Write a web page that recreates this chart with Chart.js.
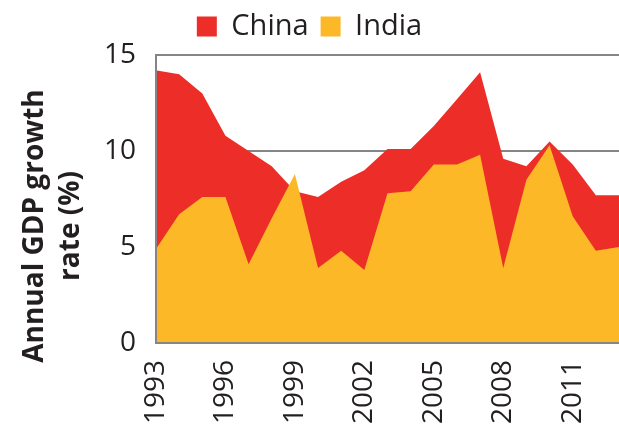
<!DOCTYPE html>
<html>
<head>
<meta charset="utf-8">
<script src="https://cdn.jsdelivr.net/npm/chart.js@4.4.1/dist/chart.umd.min.js"></script>
<style>
    body { margin: 0; background: #fff; }
    #wrap { position: relative; width: 619px; height: 430px; overflow: hidden; }
    #yTitle {
        position: absolute;
        left: -100px;
        top: 190px;
        width: 300px;
        height: 72px;
        line-height: 36px;
        text-align: center;
        font-family: 'Open Sans', sans-serif;
        font-weight: bold;
        font-size: 28px;
        color: #231f20;
        transform: rotate(-90deg);
        white-space: nowrap;
    }
</style>
</head>
<body>
<div id="wrap">
    <canvas id="gdpChart" width="619" height="430"></canvas>
    <div id="yTitle">Annual GDP growth<br>rate (%)</div>
</div>
<script>
// Datos
const years = [1993, 1994, 1995, 1996, 1997, 1998, 1999, 2000, 2001, 2002, 2003,
               2004, 2005, 2006, 2007, 2008, 2009, 2010, 2011, 2012, 2013];
const chinaGrowth = [14.2, 14.0, 13.0, 10.8, 10.0, 9.2, 7.9, 7.6, 8.4, 9.0, 10.1,
                     10.1, 11.3, 12.7, 14.1, 9.6, 9.2, 10.5, 9.3, 7.7, 7.7];
const indiaGrowth = [4.9, 6.7, 7.6, 7.6, 4.1, 6.5, 8.8, 3.9, 4.8, 3.8, 7.8,
                     7.9, 9.3, 9.3, 9.8, 3.9, 8.5, 10.3, 6.6, 4.8, 5.0];
const xTickYears = [1993, 1996, 1999, 2002, 2005, 2008, 2011];
const yTicks = [0, 5, 10, 15];

const textColor = '#231f20';
const gridColor = '#858585';

function toPoints(values) {
    return values.map((v, i) => ({ x: years[i], y: v }));
}

// Fijar la altura de la leyenda para que el area del grafico empiece en y=55
const legendHeightPlugin = {
    id: 'legendHeight',
    beforeLayout(chart) {
        const lg = chart.legend;
        if (!lg || lg._fixedFit) return;
        const originalFit = lg.fit.bind(lg);
        lg.fit = function() {
            originalFit();
            this.height = 55;
        };
        lg._fixedFit = true;
    }
};

document.addEventListener('DOMContentLoaded', function() {
    const ctx = document.getElementById('gdpChart').getContext('2d');
    const dataClip = { left: -1, top: 0, right: 0, bottom: -1 };

    new Chart(ctx, {
        type: 'line',
        data: {
            datasets: [
                {
                    label: 'India',
                    data: toPoints(indiaGrowth),
                    backgroundColor: '#FDB827',
                    borderColor: '#FDB827',
                    borderWidth: 0,
                    pointRadius: 0,
                    fill: 'origin',
                    clip: dataClip
                },
                {
                    label: 'China',
                    data: toPoints(chinaGrowth),
                    backgroundColor: '#ED2D27',
                    borderColor: '#ED2D27',
                    borderWidth: 0,
                    pointRadius: 0,
                    fill: 'origin',
                    clip: dataClip
                }
            ]
        },
        plugins: [legendHeightPlugin],
        options: {
            responsive: false,
            animation: false,
            layout: { padding: 0 },
            plugins: {
                tooltip: { enabled: false },
                legend: {
                    display: true,
                    position: 'top',
                    reverse: true,
                    labels: {
                        boxWidth: 20,
                        boxHeight: 20,
                        padding: 12,
                        color: textColor,
                        font: { size: 29, family: 'Open Sans' }
                    }
                }
            },
            scales: {
                x: {
                    type: 'linear',
                    min: 1993,
                    max: 2013,
                    afterFit: function(scale) {
                        scale.height = 87;
                        scale.paddingLeft = 0;
                        scale.paddingRight = 0;
                    },
                    afterBuildTicks: function(scale) {
                        scale.ticks = xTickYears.map(v => ({ value: v }));
                    },
                    grid: { display: false, drawTicks: false },
                    border: { display: true, color: gridColor, width: 2 },
                    ticks: {
                        minRotation: 90,
                        maxRotation: 90,
                        padding: 17,
                        color: textColor,
                        font: { size: 28, family: 'Open Sans' },
                        callback: function(value) { return String(value); }
                    }
                },
                y: {
                    min: 0,
                    max: 15,
                    afterFit: function(scale) { scale.width = 156; },
                    afterBuildTicks: function(scale) {
                        scale.ticks = yTicks.map(v => ({ value: v }));
                    },
                    grid: { color: gridColor, lineWidth: 2, drawTicks: false },
                    border: { display: true, color: gridColor, width: 2 },
                    ticks: {
                        padding: 20,
                        color: textColor,
                        font: { size: 28, family: 'Open Sans' }
                    }
                }
            }
        }
    });
});
</script>
</body>
</html>
